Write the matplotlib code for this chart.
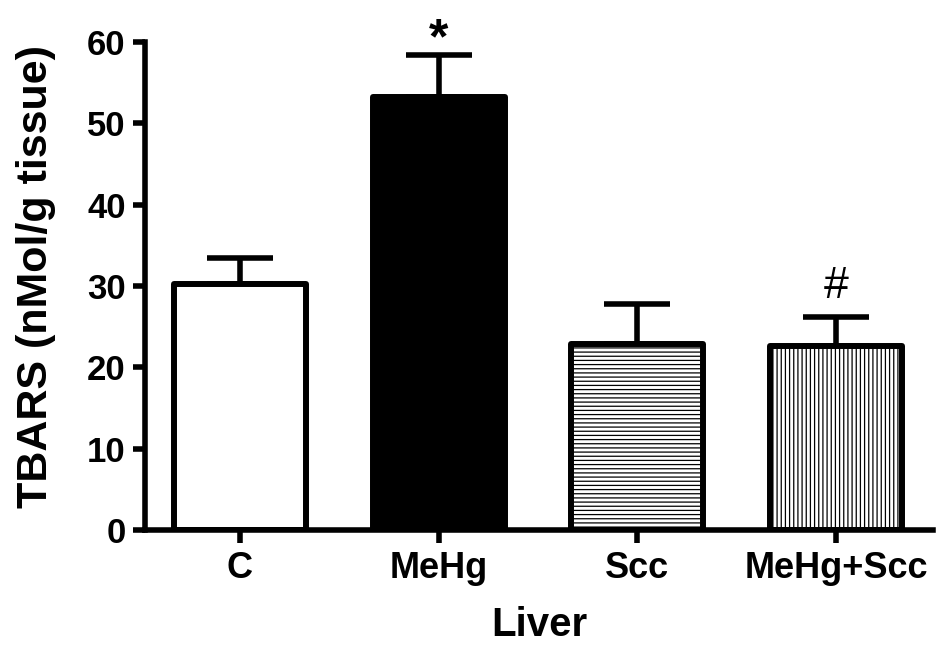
import matplotlib
matplotlib.use("Agg")
import matplotlib.pyplot as plt

categories = ["C", "MeHg", "Scc", "MeHg+Scc"]
means = [30.2, 53.2, 22.9, 22.6]
sems = [3.3, 5.2, 4.9, 3.6]
face_colors = ["white", "black", "white", "white"]
hatches = [None, None, "----", "||||"]
annotations = ["", "*", "", "#"]
y_ticks = [0, 10, 20, 30, 40, 50, 60]

plt.rcParams['font.family'] = ['Liberation Sans', 'DejaVu Sans']
plt.rcParams['hatch.linewidth'] = 0.9
plt.rcParams['hatch.color'] = 'black'

fig = plt.figure(figsize=(9.43, 6.46), dpi=100)
ax = fig.add_axes([145/943, 1 - 530/646, (933-145)/943, (530-42)/646])

x = list(range(len(categories)))
ax.errorbar(x, means, yerr=[[0]*len(sems), sems], fmt='none', ecolor='black',
            elinewidth=4, capsize=24, capthick=4, zorder=1)
bars = ax.bar(x, means, width=0.665, color=face_colors, edgecolor='black',
              linewidth=4.3, zorder=2)
for b, h in zip(bars, hatches):
    b.set_joinstyle('round')
    if h:
        b.set_hatch(h)

for xi, m, s, a in zip(x, means, sems, annotations):
    if a == '*':
        ax.text(xi, m + s + 0.2, a, ha='center', va='baseline', fontsize=36,
                fontweight='bold', clip_on=False)
    elif a == '#':
        ax.text(xi, m + s + 2.3, a, ha='center', va='baseline', fontsize=32,
                fontweight='normal', clip_on=False)

ax.set_xlim(-0.478, 3.488)
ax.set_ylim(0, 60)
ax.set_xticks(x)
ax.set_xticklabels(categories)
ax.set_yticks(y_ticks)
for sp in ['top', 'right']:
    ax.spines[sp].set_visible(False)
for sp in ['left', 'bottom']:
    ax.spines[sp].set_linewidth(4)
ax.tick_params(axis='both', width=4, length=9, direction='out')
ax.tick_params(axis='x', labelsize=26, pad=6)
ax.tick_params(axis='y', labelsize=25, pad=5)
for lab in ax.get_xticklabels() + ax.get_yticklabels():
    lab.set_fontweight('bold')
ax.set_ylabel("TBARS (nMol/g tissue)", fontsize=31, fontweight='bold')
ax.set_xlabel("Liver", fontsize=29, fontweight='bold')
ax.yaxis.set_label_coords(-0.113, 0.52)
ax.xaxis.set_label_coords(0.5, -0.155)

fig.savefig("out.png", dpi=100)
